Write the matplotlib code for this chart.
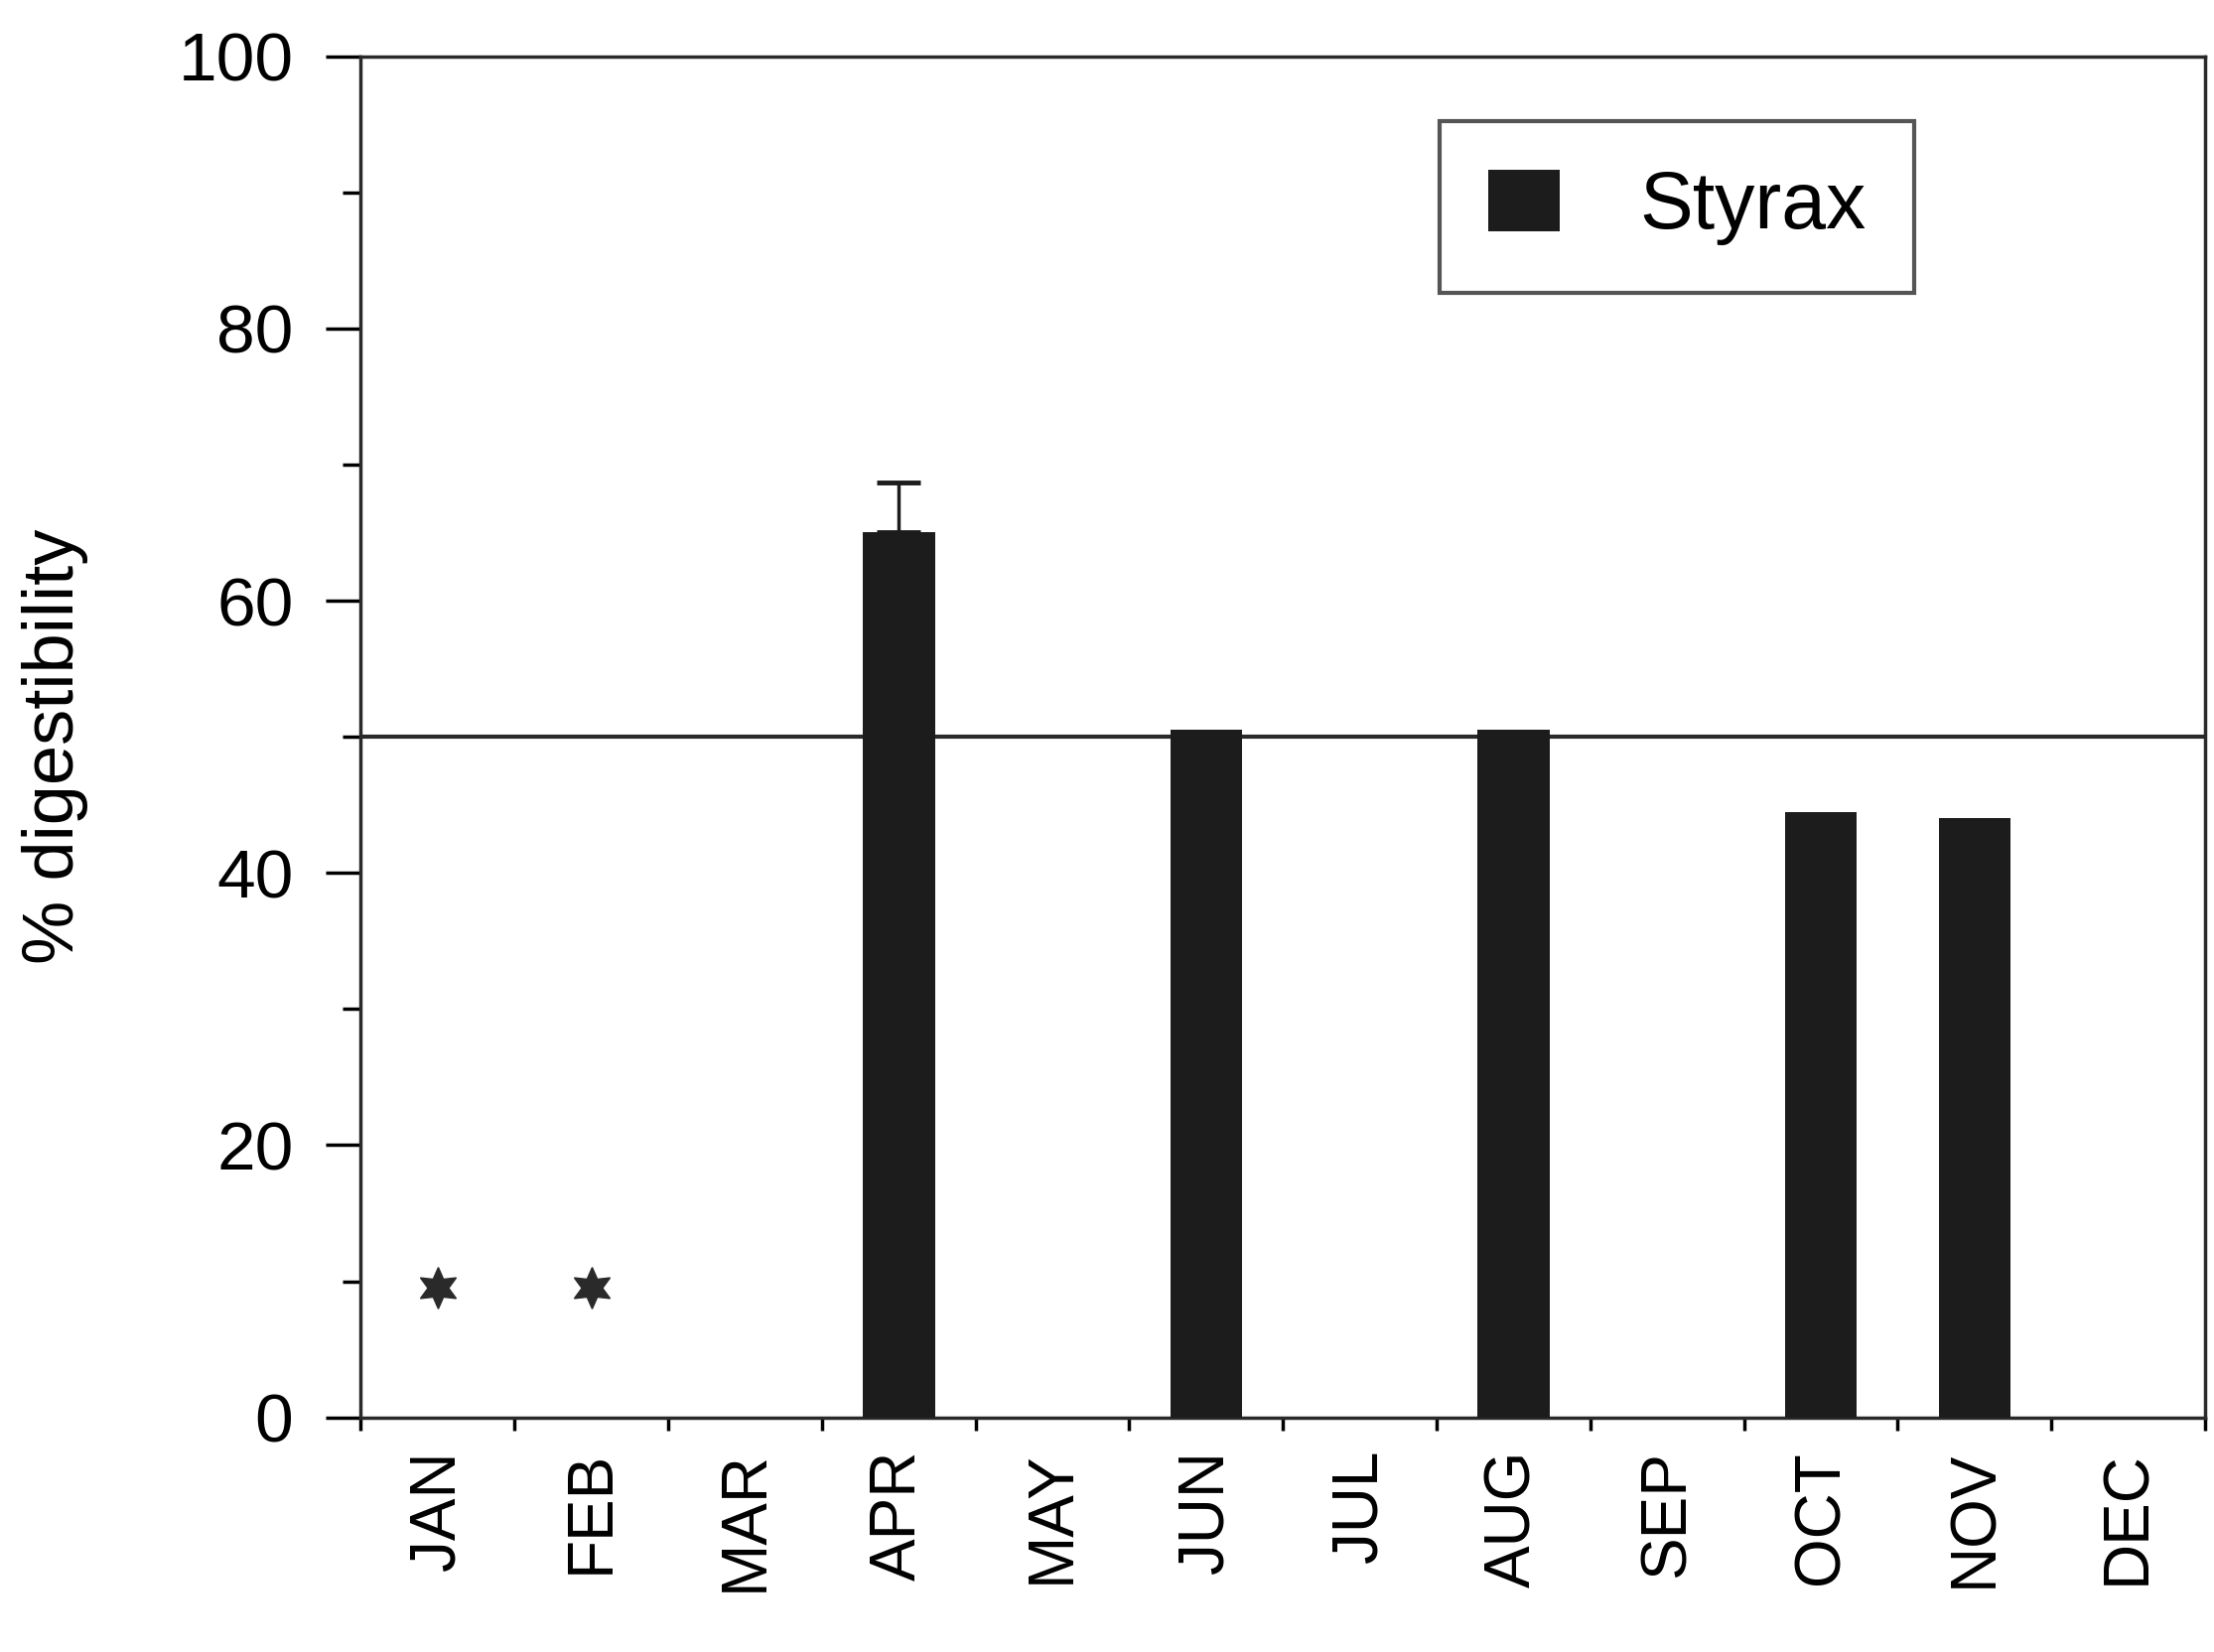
import matplotlib
matplotlib.use("Agg")
import matplotlib.pyplot as plt
import numpy as np

# Monthly % digestibility of Styrax
months = ["JAN", "FEB", "MAR", "APR", "MAY", "JUN",
          "JUL", "AUG", "SEP", "OCT", "NOV", "DEC"]
digest = [0, 0, 0, 65, 0, 50.5, 0, 50.5, 0, 44.5, 44, 0]
digest_err = [0, 0, 0, 3.7, 0, 0, 0, 0, 0, 0, 0, 0]
has_bar = [False, False, False, True, False, True,
           False, True, False, True, True, False]
# months marked with an asterisk and where the asterisk sits
star_months = ["JAN", "FEB"]
star_level = 9.5
ref_level = 50

plt.rcParams['font.family'] = ['Liberation Sans', 'DejaVu Sans']

fig = plt.figure(figsize=(22.3, 16.64), dpi=100)
ax = fig.add_axes([0.163, 0.142, 0.833, 0.824])

x = np.arange(len(months))
bx = [x[i] for i in range(len(months)) if has_bar[i]]
by = [digest[i] for i in range(len(months)) if has_bar[i]]

ax.bar(bx, by, width=0.47, color="#1c1c1c", label="Styrax", zorder=3)

# only April has an (upper) error bar
ex = [x[i] for i in range(len(months)) if digest_err[i] > 0]
ey = [digest[i] for i in range(len(months)) if digest_err[i] > 0]
ee = [digest_err[i] for i in range(len(months)) if digest_err[i] > 0]
ax.errorbar(ex, ey, yerr=[[0] * len(ee), ee], fmt="none", ecolor="#1c1c1c",
            elinewidth=2.5, capsize=16, capthick=3.5, zorder=2)

# reference line at 50 %
ax.axhline(ref_level, color="#2a2a2a", lw=3, zorder=1)

# asterisks for months without samples
sx = [months.index(m) for m in star_months]
ax.plot(sx, [star_level] * len(sx), linestyle="none", marker=(6, 1, 0),
        markersize=30, color="#2a2a2a", zorder=4)

ax.set_xlim(-0.5, len(months) - 0.5)
ax.set_ylim(0, 100)

ax.set_xticks(x)
ax.set_xticklabels(months, rotation=90, fontsize=46)
ax.set_xticks(np.arange(-0.5, len(months)), minor=True)
ax.tick_params(axis="x", which="major", length=0, pad=24)
ax.tick_params(axis="x", which="minor", direction="out", length=9, width=2.5)

ax.set_yticks([0, 20, 40, 60, 80, 100])
ax.set_yticks([10, 30, 50, 70, 90], minor=True)
ax.tick_params(axis="y", which="major", direction="out", length=25,
               width=2.5, labelsize=50, pad=24)
ax.tick_params(axis="y", which="minor", direction="out", length=13, width=2.5)

ax.set_ylabel("% digestibility", fontsize=52)
ax.yaxis.set_label_coords(-0.148, 0.493)

for s in ax.spines.values():
    s.set_linewidth(2.5)
    s.set_color("#2a2a2a")

leg = ax.legend(loc="upper left", bbox_to_anchor=(0.585, 0.952), fontsize=58,
                frameon=True, fancybox=False, edgecolor="#2a2a2a",
                handlelength=0.9, handleheight=0.8, handletextpad=1.0,
                borderpad=0.6, borderaxespad=0)
leg.get_frame().set_linewidth(3)

fig.savefig("out.png", dpi=100, facecolor="white")
